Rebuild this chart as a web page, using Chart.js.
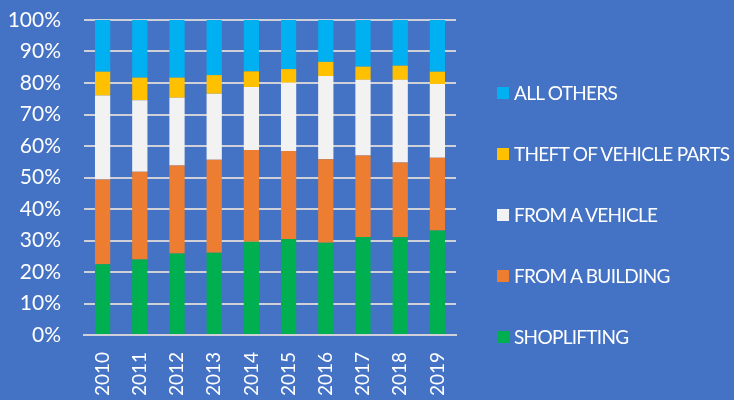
<!DOCTYPE html>
<html lang="en">
<head>
    <meta charset="UTF-8">
    <title>Theft categories 2010-2019</title>
    <script src="https://cdn.jsdelivr.net/npm/chart.js"></script>
    <style>
        body { margin: 0; background: #4472C4; }
        #wrap { position: relative; width: 734px; height: 400px; }
        #legend { position: absolute; left: 497px; top: 62px; font-family: Lato, sans-serif; font-size: 19px; letter-spacing: -0.7px; color: #fff; }
        .item { height: 61px; display: flex; align-items: center; white-space: nowrap; }
        .box { width: 12px; height: 12px; margin-right: 5px; }
    </style>
</head>
<body>
    <div id="wrap">
        <canvas id="chart" width="734" height="400"></canvas>
        <div id="legend"></div>
    </div>
    <script>
        // Valori (percentuale per anno)
        const years = ['2010', '2011', '2012', '2013', '2014', '2015', '2016', '2017', '2018', '2019'];
        const shoplifting = [22.5, 24.0, 25.9, 26.1, 29.6, 30.5, 29.3, 31.1, 31.0, 33.2];
        const fromBuilding = [26.9, 27.8, 27.9, 29.5, 29.1, 27.9, 26.5, 25.9, 23.8, 23.1];
        const fromVehicle = [26.6, 22.7, 21.5, 21.0, 20.0, 21.7, 26.4, 24.0, 26.2, 23.4];
        const vehicleParts = [7.6, 7.2, 6.4, 5.9, 5.0, 4.3, 4.5, 4.2, 4.5, 3.9];
        const allOthers = [16.4, 18.3, 18.3, 17.5, 16.3, 15.6, 13.3, 14.8, 14.5, 16.4];
        const yTicks = [0, 10, 20, 30, 40, 50, 60, 70, 80, 90, 100];

        const seriesNames = ['SHOPLIFTING', 'FROM A BUILDING', 'FROM A VEHICLE', 'THEFT OF VEHICLE PARTS', 'ALL OTHERS'];
        const seriesData = [shoplifting, fromBuilding, fromVehicle, vehicleParts, allOthers];
        const seriesColors = ['#00B050', '#ED7D31', '#F2F2F2', '#FFC000', '#00B0F0'];

        const datasets = seriesNames.map((name, i) => ({
            label: name,
            data: seriesData[i],
            backgroundColor: seriesColors[i],
            borderWidth: 0,
            barPercentage: 1,
            categoryPercentage: 0.41
        }));

        new Chart(document.getElementById('chart').getContext('2d'), {
            type: 'bar',
            data: { labels: years, datasets: datasets },
            options: {
                responsive: false,
                animation: false,
                layout: { padding: { top: 20, right: 278, bottom: 0, left: 0 } },
                plugins: { legend: { display: false }, tooltip: { enabled: false } },
                scales: {
                    x: {
                        stacked: true,
                        grid: { display: false, drawTicks: false },
                        border: { display: true, color: '#D0D0D8', width: 2 },
                        ticks: { color: '#fff', font: { family: 'Lato, sans-serif', size: 19 }, minRotation: 90, maxRotation: 90, padding: 17 },
                        afterFit: s => { s.height = 65; }
                    },
                    y: {
                        stacked: true,
                        min: 0,
                        max: 100,
                        afterBuildTicks: s => { s.ticks = yTicks.map(v => ({ value: v })); },
                        grid: { color: '#D0D0D8', lineWidth: 2, drawTicks: false },
                        border: { display: false },
                        ticks: { color: '#fff', font: { family: 'Lato, sans-serif', size: 21 }, padding: 23, callback: v => v + '%' },
                        afterFit: s => { s.width = 84; s.paddingTop = 0; s.paddingBottom = 0; }
                    }
                }
            }
        });

        // Legenda in ordine inverso, come nell'originale
        const legend = document.getElementById('legend');
        for (let i = seriesNames.length - 1; i >= 0; i--) {
            const item = document.createElement('div');
            item.className = 'item';
            item.innerHTML = '<span class="box" style="background:' + seriesColors[i] + '"></span>' + seriesNames[i];
            legend.appendChild(item);
        }
    </script>
</body>
</html>
